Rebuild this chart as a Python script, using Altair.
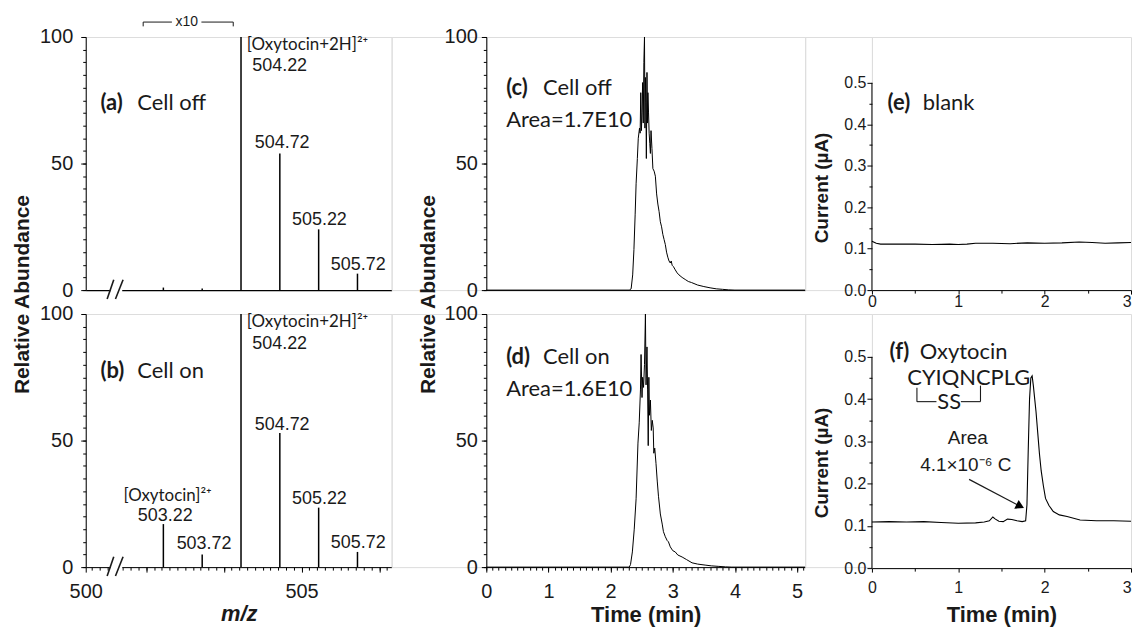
import altair as alt
import pandas as pd

AXF = "Liberation Sans"
ANF = "Lato"
INK = "#1a1a1a"

# ---------------- data ----------------
ms_mz = [503.22, 503.72, 504.22, 504.72, 505.22, 505.72]
ms_a_int = [1.0, 0.6, 100, 54, 24, 6.5]
ms_b_int = [17, 5, 100, 53, 23.5, 6]

lc_c_time = [0, 2.30, 2.33, 2.355, 2.375, 2.395, 2.41, 2.43, 2.445, 2.465,
             2.475, 2.485, 2.495, 2.505, 2.515, 2.525, 2.535, 2.545, 2.552, 2.56,
             2.568, 2.575, 2.585, 2.593, 2.60, 2.61, 2.62, 2.63, 2.64, 2.65,
             2.665, 2.68, 2.70, 2.72, 2.74, 2.76, 2.78, 2.80, 2.82, 2.84,
             2.86, 2.88, 2.90, 2.92, 2.94, 2.96, 2.975, 2.99, 3.01, 3.04,
             3.07, 3.10, 3.15, 3.20, 3.25, 3.30, 3.40, 3.50, 3.60, 3.70,
             3.80, 3.90, 4.00, 5.13]
lc_c_abund = [0, 0, 0.5, 6, 16, 30, 42, 52, 60, 64,
              62, 78, 63, 70, 82, 66, 90, 100, 64, 84,
              74, 52, 86, 66, 78, 70, 62, 58, 54, 63,
              56, 48, 47, 45, 38, 34, 31, 27, 25, 22,
              20, 18, 15, 13, 11.5, 10.7, 11.5, 9.8, 9.3, 8,
              6.8, 6, 5, 4.2, 3.4, 3, 2, 1.4, 0.9, 0.5,
              0.3, 0.1, 0, 0]

lc_d_time = [0, 2.30, 2.32, 2.35, 2.38, 2.41, 2.44, 2.46, 2.48, 2.49,
             2.505, 2.515, 2.53, 2.545, 2.56, 2.57, 2.585, 2.595, 2.605, 2.615,
             2.625, 2.64, 2.655, 2.67, 2.685, 2.695, 2.71, 2.73, 2.75, 2.77,
             2.80, 2.83, 2.85, 2.88, 2.91, 2.93, 2.96, 3.00, 3.04, 3.08,
             3.15, 3.22, 3.31, 3.40, 3.52, 3.62, 3.73, 3.85, 3.95, 5.13]
lc_d_abund = [0, 0, 1, 6, 15, 27, 49, 57, 70, 84,
              67, 75, 71, 80, 100, 72, 87, 70, 48, 75,
              60, 66, 54, 58, 55, 45, 47, 41, 34, 28,
              21, 17, 14, 12, 10.5, 10, 8, 6.5, 6, 4.8,
              4, 3, 1.7, 1.2, 0.8, 0.5, 0.3, 0.1, 0, 0]

amp_e_time = [0, 0.05, 0.1, 0.2, 0.35, 0.5, 0.7, 0.9, 1.0, 1.1,
              1.2, 1.4, 1.6, 1.8, 2.0, 2.2, 2.4, 2.55, 2.7, 2.85, 3.0]
amp_e_cur = [0.118, 0.113, 0.111, 0.111, 0.111, 0.111, 0.110, 0.111, 0.110, 0.111,
             0.113, 0.113, 0.112, 0.114, 0.113, 0.114, 0.116, 0.115, 0.113, 0.114, 0.115]

amp_f_time = [0, 0.2, 0.4, 0.6, 0.8, 1.0, 1.2, 1.3, 1.36, 1.40,
              1.43, 1.47, 1.52, 1.57, 1.62, 1.68, 1.74, 1.78, 1.795, 1.81,
              1.825, 1.84, 1.855, 1.87, 1.885, 1.90, 1.92, 1.94, 1.96, 1.985,
              2.01, 2.05, 2.10, 2.17, 2.26, 2.41, 2.6, 2.8, 3.0]
amp_f_cur = [0.109, 0.110, 0.109, 0.110, 0.108, 0.106, 0.107, 0.109, 0.112, 0.121,
             0.116, 0.111, 0.110, 0.116, 0.115, 0.112, 0.110, 0.112, 0.15, 0.28,
             0.40, 0.45, 0.455, 0.43, 0.40, 0.37, 0.32, 0.27, 0.23, 0.195,
             0.165, 0.148, 0.134, 0.126, 0.122, 0.114, 0.112, 0.112, 0.111]

ms_major = [502.22, 503, 504, 505, 506]
ms_minor = [round(502.3 + 0.1 * i, 1) for i in range(39)]
lc_minor = [round(0.1 * i, 1) for i in range(52)]
pct_minor = list(range(0, 101, 5))
amp_y_major = [0, 0.1, 0.2, 0.3, 0.4, 0.5]
amp_y_minor = [0.05, 0.15, 0.25, 0.35, 0.45]


# ---------------- helpers ----------------
def axis(**kw):
    d = dict(grid=False, domainColor="black", domainWidth=1, tickColor="black", tickWidth=1,
             labelColor=INK, labelFont=AXF, titleFont=AXF, titleColor=INK,
             titleFontWeight="bold", labelFlush=False, labelOverlap=False)
    d.update(kw)
    return alt.Axis(**d)


def text_layer(rows, xs, ys, size, font=ANF, weight="normal", align="left", style="normal"):
    df = pd.DataFrame(rows, columns=["x", "y", "label"])
    return alt.Chart(df).mark_text(font=font, fontSize=size, fontWeight=weight, align=align,
                                   baseline="middle", fontStyle=style, color=INK).encode(
        x=alt.X("x:Q", scale=xs, axis=None),
        y=alt.Y("y:Q", scale=ys, axis=None),
        text="label:N")


def seg_layer(rows, xs, ys, width=1.2, color=INK):
    df = pd.DataFrame(rows, columns=["x1", "y1", "x2", "y2"])
    return alt.Chart(df).mark_rule(color=color, strokeWidth=width).encode(
        x=alt.X("x1:Q", scale=xs, axis=None), x2="x2:Q",
        y=alt.Y("y1:Q", scale=ys, axis=None), y2="y2:Q")


# ---------------- MS panels ----------------
XS_MS = alt.Scale(domain=[502.22, 506.16], nice=False, zero=False)
YS_MS = alt.Scale(domain=[0, 100], nice=False, zero=False)


def ms_panel(intens, top, label, state, extra_rows):
    df = pd.DataFrame({"mz": ms_mz, "inten": intens})
    if top:
        xax = axis(labels=False, ticks=False, title=None, domainWidth=1.3)
        yax = axis(values=[0, 50, 100], tickSize=5, labelFontSize=20, labelPadding=8,
                   title="Relative Abundance", titleFontSize=21, titleX=-53, titleY=258)
        xminor = None
    else:
        xax = axis(values=ms_major,
                   labelExpr="datum.value == 505 ? '505' : (datum.value < 502.5 ? '500' : '')",
                   tickSize=5, labelFontSize=20, labelPadding=9,
                   title="m/z", titleFontSize=22, titleFontStyle="italic", titleY=37)
        yax = axis(values=[0, 50, 100], tickSize=5, labelFontSize=20, labelPadding=8, title=None)
        xminor = axis(values=ms_minor, labels=False, tickSize=3, domain=False, title=None,
                      orient="bottom")
    yminor = axis(values=pct_minor, labels=False, tickSize=3, domain=False, title=None,
                  orient="left")
    peaks = alt.Chart(df).mark_rule(color="black", strokeWidth=1.5).encode(
        x=alt.X("mz:Q", scale=XS_MS, axis=xax),
        y=alt.Y("inten:Q", scale=YS_MS, axis=yax),
        y2=alt.datum(0))
    minor = alt.Chart(df).mark_point(opacity=0).encode(
        x=alt.X("mz:Q", scale=XS_MS, axis=xminor),
        y=alt.Y("inten:Q", scale=YS_MS, axis=yminor))
    white = alt.Chart(pd.DataFrame({"x1": [502.54], "x2": [502.69], "y1": [-2.4], "y2": [1.2]})
                      ).mark_rect(color="white").encode(
        x=alt.X("x1:Q", scale=XS_MS, axis=None), x2="x2:Q",
        y=alt.Y("y1:Q", scale=YS_MS, axis=None), y2="y2:Q")
    slashes = seg_layer([(502.496, -3.5, 502.581, 4.1), (502.603, -3.5, 502.701, 4.1)],
                        XS_MS, YS_MS, width=1.6)
    layers = [peaks, minor, white, slashes]
    layers.append(text_layer([(502.41, label[1], label[0])], XS_MS, YS_MS, 22, weight="bold"))
    layers.append(text_layer([(502.885, label[1], state)], XS_MS, YS_MS, 22))
    layers.append(text_layer(extra_rows["num"], XS_MS, YS_MS, 18, font=AXF, align="center"))
    layers.append(text_layer(extra_rows["ion"], XS_MS, YS_MS, 17))
    if top:
        layers.append(seg_layer([(502.96, 105.9, 503.33, 105.9), (503.71, 105.9, 504.12, 105.9),
                                 (502.96, 105.9, 502.96, 104.2), (504.12, 105.9, 504.12, 104.2)],
                                XS_MS, YS_MS, width=1))
        layers.append(text_layer([(503.52, 105.9, "x10")], XS_MS, YS_MS, 14, font=AXF,
                                 align="center"))
    return alt.layer(*layers).resolve_axis(x="independent", y="independent").properties(
        width=307, height=254)


panel_a = ms_panel(ms_a_int, True, ("(a)", 74.0), "Cell off", {
    "num": [(504.718, 88.6, "504.22"), (504.75, 58.3, "504.72"),
            (505.23, 27.6, "505.22"), (505.73, 9.8, "505.72")],
    "ion": [(504.295, 96.7, "[Oxytocin+2H]²⁺")]})
panel_b = ms_panel(ms_b_int, False, ("(b)", 77.6), "Cell on", {
    "num": [(504.718, 88.2, "504.22"), (504.75, 56.3, "504.72"),
            (505.23, 26.8, "505.22"), (505.73, 9.4, "505.72"),
            (503.244, 20.2, "503.22"), (503.744, 9.1, "503.72")],
    "ion": [(504.295, 96.9, "[Oxytocin+2H]²⁺"), (502.705, 28.0, "[Oxytocin]²⁺")]})

# ---------------- LC panels ----------------
XS_LC = alt.Scale(domain=[0, 5.13], nice=False, zero=False)
YS_LC = alt.Scale(domain=[0, 100], nice=False, zero=False)


def lc_panel(times, abund, top, label, state, area, ylab):
    df = pd.DataFrame({"t": times, "a": abund})
    if top:
        xax = axis(labels=False, ticks=False, title=None)
        yax = axis(values=[0, 50, 100], tickSize=5, labelFontSize=20, labelPadding=4,
                   title="Relative Abundance", titleFontSize=21, titleX=-48, titleY=258)
        xminor = None
    else:
        xax = axis(values=[0, 1, 2, 3, 4, 5], format="d", tickSize=5, labelFontSize=20,
                   labelPadding=9, title="Time (min)", titleFontSize=22, titleY=38)
        yax = axis(values=[0, 50, 100], tickSize=5, labelFontSize=20, labelPadding=4, title=None)
        xminor = axis(values=lc_minor, labels=False, tickSize=3, domain=False, title=None,
                      orient="bottom")
    yminor = axis(values=pct_minor, labels=False, tickSize=3, domain=False, title=None,
                  orient="left")
    line = alt.Chart(df).mark_line(color="black", strokeWidth=1).encode(
        x=alt.X("t:Q", scale=XS_LC, axis=xax),
        y=alt.Y("a:Q", scale=YS_LC, axis=yax))
    minor = alt.Chart(df).mark_point(opacity=0).encode(
        x=alt.X("t:Q", scale=XS_LC, axis=xminor),
        y=alt.Y("a:Q", scale=YS_LC, axis=yminor))
    layers = [line, minor,
              text_layer([(0.32, ylab, label)], XS_LC, YS_LC, 22, weight="bold"),
              text_layer([(0.913, ylab, state)], XS_LC, YS_LC, 22),
              text_layer([(0.32, ylab - 12.6, area)], XS_LC, YS_LC, 22)]
    return alt.layer(*layers).resolve_axis(x="independent", y="independent").properties(
        width=320, height=254)


panel_c = lc_panel(lc_c_time, lc_c_abund, True, "(c)", "Cell off", "Area=1.7E10", 79.9)
panel_d = lc_panel(lc_d_time, lc_d_abund, False, "(d)", "Cell on", "Area=1.6E10", 83.1)

# ---------------- amperometric panels ----------------
AMP_W = 260
XS_AMP = alt.Scale(domain=[0, 3], nice=False, zero=False)
YS_E = alt.Scale(domain=[0, 0.6106], nice=False, zero=False)
YS_F = alt.Scale(domain=[0, 0.6014], nice=False, zero=False)
LAST_RIGHT = {"condition": {"test": "datum.value >= 3", "value": "right"}, "value": "center"}


def amp_panel(times, cur, ys, bottom, title_y):
    df = pd.DataFrame({"t": times, "i": cur})
    if bottom:
        xax = axis(values=[0, 1, 2, 3], format="d", tickSize=4, labelFontSize=16, labelPadding=7,
                   labelAlign=LAST_RIGHT, title="Time (min)", titleFontSize=22, titleY=37)
    else:
        xax = axis(values=[0, 1, 2, 3], format="d", tickSize=4, labelFontSize=16, labelPadding=-1,
                   labelAlign=LAST_RIGHT, title=None)
    yax = axis(values=amp_y_major, format=".1f", tickSize=5, labelFontSize=16, labelPadding=1,
               domain=False, title="Current (µA)", titleFontSize=19, titleX=-41, titleY=title_y)
    line = alt.Chart(df).mark_line(color="black", strokeWidth=1.1).encode(
        x=alt.X("t:Q", scale=XS_AMP, axis=xax),
        y=alt.Y("i:Q", scale=ys, axis=yax))
    minor = alt.Chart(df).mark_point(opacity=0).encode(
        x=alt.X("t:Q", scale=XS_AMP,
                axis=axis(values=[0.5, 1.5, 2.5], labels=False, tickSize=3, domain=False,
                          title=None, orient="bottom")),
        y=alt.Y("i:Q", scale=ys,
                axis=axis(values=amp_y_minor, labels=False, tickSize=3, domain=False,
                          title=None, orient="left")))
    yline = seg_layer([(0, 0, 0, 0.5)], XS_AMP, ys, width=1, color="black")
    return [line, minor, yline]


e_layers = amp_panel(amp_e_time, amp_e_cur, YS_E, False, 151)
e_layers += [text_layer([(0.181, 0.452, "(e)")], XS_AMP, YS_E, 22, weight="bold"),
             text_layer([(0.589, 0.452, "blank")], XS_AMP, YS_E, 22)]
panel_e = alt.layer(*e_layers).resolve_axis(x="independent", y="independent").properties(
    width=AMP_W, height=254)

f_layers = amp_panel(amp_f_time, amp_f_cur, YS_F, True, 149)
f_layers += [
    text_layer([(0.204, 0.512, "(f)")], XS_AMP, YS_F, 22, weight="bold"),
    text_layer([(0.555, 0.512, "Oxytocin")], XS_AMP, YS_F, 22),
    text_layer([(1.121, 0.450, "CYIQNCPLG"), (0.895, 0.392, "SS")], XS_AMP, YS_F, 22,
               align="center"),
    seg_layer([(0.521, 0.427, 0.521, 0.394), (0.521, 0.394, 0.747, 0.394),
               (1.03, 0.394, 1.257, 0.394), (1.257, 0.394, 1.257, 0.432)],
              XS_AMP, YS_F, width=1.1),
    text_layer([(1.11, 0.307, "Area"), (1.087, 0.243, "4.1×10⁻⁶ C")], XS_AMP, YS_F, 19,
               font=AXF, align="center"),
    seg_layer([(1.125, 0.21, 1.717, 0.1465)], XS_AMP, YS_F, width=1.2),
    alt.Chart(pd.DataFrame({"x": [1.717], "y": [0.1465]})).mark_point(
        shape="triangle-right", filled=True, color="black", size=95, angle=27, opacity=1).encode(
        x=alt.X("x:Q", scale=XS_AMP, axis=None), y=alt.Y("y:Q", scale=YS_F, axis=None)),
]
panel_f = alt.layer(*f_layers).resolve_axis(x="independent", y="independent").properties(
    width=AMP_W, height=255)


# ---------------- layout ----------------
def spacer(w, h):
    return alt.Chart(pd.DataFrame({"v": [0]})).mark_point(opacity=0).encode(
        x=alt.X("v:Q", axis=None), y=alt.Y("v:Q", axis=None)).properties(width=w, height=h)


chart = alt.concat(
    panel_a, spacer(95, 254), panel_c, spacer(67, 254), panel_e,
    panel_b, spacer(95, 254), panel_d, spacer(67, 254), panel_f,
    columns=5, spacing={"row": 24, "column": 0}, bounds="flush"
).properties(
    padding={"left": 3, "top": 5, "right": 0, "bottom": 0}
).configure_view(stroke="transparent", strokeWidth=0).configure(background="white")

chart.save("out.html", embed_options={"renderer": "svg", "actions": False})
